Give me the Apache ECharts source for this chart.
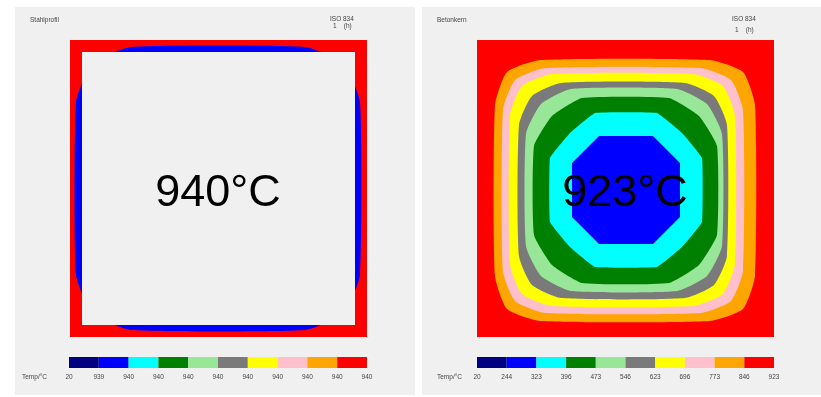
<!DOCTYPE html>
<html>
<head>
<meta charset="utf-8">
<script src="https://cdn.jsdelivr.net/npm/echarts@6/dist/echarts.min.js"></script>
<style>
html, body { margin: 0; padding: 0; background: #fff; }
#chart { width: 821px; height: 397px; }
</style>
</head>
<body>
<div id="chart"></div>
<script>
// temperature bands, coolest to hottest
const bandColors = ['#000080', '#0000ff', '#00ffff', '#008000', '#98e698', '#7a7a7a', '#ffff00', '#ffc0cb', '#ffa500', '#ff0000'];
const leftTicks = ['20', '939', '940', '940', '940', '940', '940', '940', '940', '940', '940'];
const rightTicks = ['20', '244', '323', '396', '473', '546', '623', '696', '773', '846', '923'];
const leftTitle = 'Stahlprofil';
const rightTitle = 'Betonkern';
const normName = 'ISO 834';
const timeText = '1    (h)';
const leftMaxText = '940°C';
const rightMaxText = '923°C';

// isotherm outlines, section coordinates 0..297
const steelRed = [[0, 0], [297, 0], [297, 297], [0, 297]];
const steelBlue = [[61, 7], [235, 7], [274, 23], [290, 62], [290, 235], [274, 274], [235, 290], [61, 290], [22, 274], [6, 235], [6, 62], [22, 23]];
const steelInner = [[12, 12], [285, 12], [285, 285], [12, 285]];
const leftShapes = [steelRed, steelBlue, steelInner];
const leftBands = [9, 1, -1];

const coreRed = [[0, 0], [297, 0], [297, 297], [0, 297]];
const coreOrange = [[63, 16], [233, 16], [266, 28], [278, 61], [278, 232], [266, 265], [233, 277], [63, 277], [30, 265], [18, 232], [18, 61], [30, 28]];
const corePink = [[68, 24], [224, 24], [254, 36], [266, 66], [266, 227], [254, 257], [224, 269], [68, 269], [38, 257], [26, 227], [26, 66], [38, 36]];
const coreYellow = [[75, 31], [216, 31], [246, 43], [258, 73], [258, 221], [246, 251], [216, 263], [75, 263], [45, 251], [33, 221], [33, 73], [45, 43]];
const coreGray = [[84, 39], [208, 39], [237, 52], [250, 81], [250, 212], [237, 241], [208, 254], [84, 254], [55, 241], [42, 212], [42, 81], [55, 52]];
const coreLightGreen = [[94, 46], [200, 46], [230, 61], [245, 91], [245, 203], [230, 233], [200, 248], [94, 248], [64, 233], [49, 203], [49, 91], [64, 61]];
const coreGreen = [[105, 54], [192, 54], [222, 72], [240, 102], [240, 191], [222, 221], [192, 239], [105, 239], [75, 221], [57, 191], [57, 102], [75, 72]];
const coreCyan = [[118, 70], [180, 70], [205, 90], [225, 115], [225, 179], [205, 204], [180, 224], [118, 224], [93, 204], [73, 179], [73, 115], [93, 90]];
const coreBlue = [[122, 93], [176, 93], [203, 120], [203, 174], [176, 201], [122, 201], [95, 174], [95, 120]];
const rightShapes = [coreRed, coreOrange, corePink, coreYellow, coreGray, coreLightGreen, coreGreen, coreCyan, coreBlue];
const rightBands = [9, 8, 7, 6, 5, 4, 3, 2, 1];

const panelBg = '#f0f0f0';
const leftSmooth = [0, 0.15, 0];
const rightSmooth = [0, 0.18, 0.18, 0.18, 0.18, 0.17, 0.14, 0.07, 0];
const smallFont = { fontSize: 6.5, fill: '#444', fontFamily: 'Liberation Sans, Arial, sans-serif' };

const chart = echarts.init(document.getElementById('chart'), null, { renderer: 'canvas' });

const hiddenAxis = (gridIndex, max) => ({
    type: 'value', gridIndex, min: 0, max, show: false
});

const legendAxis = (gridIndex, ticks) => ({
    type: 'value', gridIndex, min: 0, max: 10, interval: 1,
    axisLine: { show: false }, axisTick: { show: false }, splitLine: { show: false },
    axisLabel: {
        showMinLabel: true, showMaxLabel: true, margin: 6,
        fontSize: 6.5, color: '#444', fontFamily: 'Liberation Sans, Arial, sans-serif',
        formatter: (v) => ticks[Math.round(v)]
    }
});

const contourSeries = (idx, shapes, bands, smooth) => ({
    type: 'custom', xAxisIndex: idx, yAxisIndex: idx, silent: true,
    data: shapes.map((s, i) => [i]),
    renderItem: (params, api) => {
        const i = api.value(0);
        return {
            type: 'polygon',
            shape: { points: shapes[i].map((p) => api.coord(p)), smooth: smooth[i] },
            style: { fill: bands[i] < 0 ? panelBg : bandColors[bands[i]] }
        };
    }
});

const legendSeries = (idx) => ({
    type: 'custom', xAxisIndex: idx, yAxisIndex: idx, silent: true,
    data: bandColors.map((c, i) => [i]),
    renderItem: (params, api) => {
        const i = api.value(0);
        const a = api.coord([i, 1]);
        const b = api.coord([i + 1, 0]);
        return {
            type: 'rect',
            shape: { x: a[0], y: a[1], width: b[0] - a[0], height: b[1] - a[1] },
            style: { fill: bandColors[i] }
        };
    }
});

const option = {
    animation: false,
    backgroundColor: '#fff',
    grid: [
        { left: 70, top: 40, width: 297, height: 297 },
        { left: 477, top: 40, width: 297, height: 297 },
        { left: 69, top: 357, width: 298, height: 11 },
        { left: 477, top: 357, width: 297, height: 11 }
    ],
    xAxis: [hiddenAxis(0, 297), hiddenAxis(1, 297), legendAxis(2, leftTicks), legendAxis(3, rightTicks)],
    yAxis: [hiddenAxis(0, 297), hiddenAxis(1, 297), hiddenAxis(2, 1), hiddenAxis(3, 1)],
    graphic: [
        { type: 'rect', z: -10, silent: true, shape: { x: 15, y: 7, width: 400, height: 388 }, style: { fill: panelBg } },
        { type: 'rect', z: -10, silent: true, shape: { x: 422, y: 7, width: 399, height: 388 }, style: { fill: panelBg } },
        { type: 'text', x: 30, y: 20, style: Object.assign({ text: leftTitle, textVerticalAlign: 'middle' }, smallFont) },
        { type: 'text', x: 437, y: 20, style: Object.assign({ text: rightTitle, textVerticalAlign: 'middle' }, smallFont) },
        { type: 'text', x: 330, y: 19, style: Object.assign({ text: normName, textVerticalAlign: 'middle' }, smallFont) },
        { type: 'text', x: 333, y: 26, style: Object.assign({ text: timeText, textVerticalAlign: 'middle' }, smallFont) },
        { type: 'text', x: 732, y: 19.5, style: Object.assign({ text: normName, textVerticalAlign: 'middle' }, smallFont) },
        { type: 'text', x: 735, y: 30.5, style: Object.assign({ text: timeText, textVerticalAlign: 'middle' }, smallFont) },
        { type: 'text', x: 22, y: 377.5, style: Object.assign({ text: 'Temp/°C', textVerticalAlign: 'middle' }, smallFont) },
        { type: 'text', x: 437, y: 377.5, style: Object.assign({ text: 'Temp/°C', textVerticalAlign: 'middle' }, smallFont) },
        {
            type: 'text', x: 218, y: 194, z: 100,
            style: { text: leftMaxText, fontSize: 45, fill: '#000', fontFamily: 'Liberation Sans, Arial, sans-serif', textAlign: 'center', textVerticalAlign: 'middle' }
        },
        {
            type: 'text', x: 625, y: 194, z: 100,
            style: { text: rightMaxText, fontSize: 45, fill: '#000', fontFamily: 'Liberation Sans, Arial, sans-serif', textAlign: 'center', textVerticalAlign: 'middle' }
        }
    ],
    series: [
        contourSeries(0, leftShapes, leftBands, leftSmooth),
        contourSeries(1, rightShapes, rightBands, rightSmooth),
        legendSeries(2),
        legendSeries(3)
    ]
};

chart.setOption(option);
</script>
</body>
</html>
